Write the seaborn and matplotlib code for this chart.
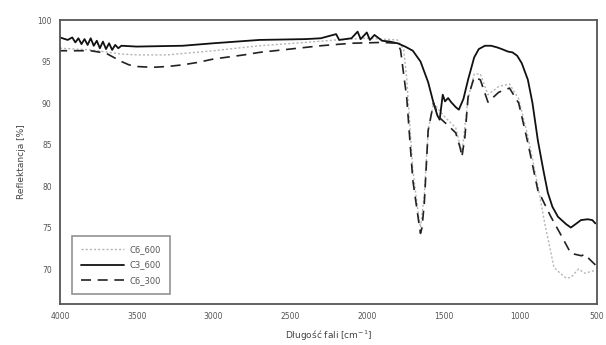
import numpy as np
import pandas as pd
import seaborn as sns
import matplotlib
matplotlib.use("Agg")
import matplotlib.pyplot as plt

sns.set_style("white")
plt.rcParams['font.family'] = ['DejaVu Sans']

# C3_600 (solid)
wn_c3_600 = [4000, 3950, 3920, 3900, 3880, 3860, 3840, 3820, 3800, 3780, 3760, 3740, 3720, 3700,
             3680, 3660, 3640, 3620, 3600, 3500, 3200, 3000, 2700, 2400, 2300, 2200, 2180, 2100,
             2060, 2040, 2000, 1980, 1950, 1900, 1850, 1800, 1750, 1700, 1650, 1600, 1565, 1540,
             1525, 1515, 1505, 1490, 1470, 1450, 1420, 1400, 1370, 1340, 1300, 1270, 1230, 1190,
             1150, 1120, 1080, 1050, 1020, 990, 950, 920, 885, 850, 820, 790, 754, 700, 670, 640,
             604, 560, 530, 510]
r_c3_600 = [97.9, 97.6, 97.9, 97.3, 97.8, 97.1, 97.7, 97.0, 97.8, 96.9, 97.5, 96.6, 97.4, 96.5,
            97.2, 96.4, 97.0, 96.6, 96.9, 96.8, 96.9, 97.2, 97.6, 97.7, 97.8, 98.3, 97.6, 97.8,
            98.6, 97.7, 98.5, 97.6, 98.2, 97.5, 97.4, 97.2, 96.8, 96.3, 95.0, 92.5, 90.0, 88.5,
            88.0, 89.5, 91.0, 90.2, 90.6, 90.1, 89.5, 89.2, 90.5, 92.8, 95.5, 96.5, 96.9, 96.9,
            96.7, 96.5, 96.2, 96.1, 95.7, 94.8, 92.8, 90.0, 85.5, 82.0, 79.2, 77.5, 76.3, 75.4, 75.0, 75.4,
            75.9, 76.0, 75.9, 75.5]

# C6_300 (dashed)
wn_c6_300 = [4000, 3800, 3700, 3650, 3600, 3550, 3500, 3400, 3300, 3200, 3100, 3000, 2800, 2700,
             2500, 2300, 2100, 1900, 1800, 1780, 1760, 1740, 1700, 1660, 1650, 1640, 1625, 1600,
             1565, 1530, 1470, 1420, 1390, 1380, 1360, 1340, 1300, 1260, 1210, 1140, 1070, 1010,
             950, 885, 800, 740, 670, 600, 580, 560, 510]
r_c6_300 = [96.3, 96.3, 96.0, 95.5, 95.0, 94.6, 94.4, 94.3, 94.4, 94.6, 94.9, 95.3, 95.8, 96.1,
            96.5, 96.9, 97.2, 97.3, 97.2, 96.4, 93.5, 90.7, 80.7, 75.5, 74.3, 75.0, 78.0, 86.7,
            90.0, 88.3, 87.3, 86.4, 84.5, 83.5, 86.0, 90.7, 93.1, 92.8, 90.1, 91.3, 91.8, 90.0,
            85.2, 79.5, 76.3, 74.3, 71.9, 71.6, 71.8, 71.4, 70.5]

# C6_600 (light dotted)
wn_c6_600 = [4000, 3800, 3600, 3500, 3300, 3000, 2700, 2400, 2200, 2000, 1800, 1760, 1740, 1700,
             1660, 1650, 1625, 1600, 1565, 1500, 1420, 1380, 1340, 1300, 1260, 1210, 1140, 1070,
             1010, 950, 885, 840, 800, 780, 740, 700, 670, 620, 580, 520]
r_c6_600 = [96.6, 96.4, 95.9, 95.8, 95.8, 96.3, 96.9, 97.3, 97.6, 97.8, 97.6, 96.5, 93.0, 82.0,
            76.0, 75.0, 79.0, 86.7, 90.0, 88.5, 87.0, 84.0, 90.5, 93.5, 93.5, 91.0, 92.0, 92.3,
            90.5, 86.0, 80.0, 75.5, 72.0, 70.2, 69.5, 68.9, 69.0, 70.0, 69.5, 69.8]

series = [
    ("C6_600", wn_c6_600, r_c6_600, dict(color="#b5b5b5", lw=1.0, ls=(0, (1.5, 1.5)))),
    ("C3_600", wn_c3_600, r_c3_600, dict(color="#111111", lw=1.3, ls="-")),
    ("C6_300", wn_c6_300, r_c6_300, dict(color="#222222", lw=1.2, ls=(0, (6, 4)))),
]

fig = plt.figure(figsize=(6.06, 3.45), dpi=100)
ax = fig.add_axes([0.099, 0.119, 0.886, 0.823])

for name, wn, r, st in series:
    df = pd.DataFrame({"wn": wn, "r": r})
    sns.lineplot(data=df, x="wn", y="r", ax=ax, estimator=None, sort=True,
                 label=name, color=st["color"], linewidth=st["lw"], linestyle=st["ls"])

ax.set_xlim(4000, 500)
ax.set_ylim(65.8, 100)
ax.set_xticks([4000, 3500, 3000, 2500, 2000, 1500, 1000, 500])
ax.set_yticks([70, 75, 80, 85, 90, 95, 100])
ax.tick_params(axis="both", direction="out", length=3, width=0.8, colors="#444444",
               labelsize=5.5, labelcolor="#555555", pad=3)
for s in ax.spines.values():
    s.set_color("#555555")
    s.set_linewidth(1.3)

ax.set_xlabel("Długość fali [cm$^{-1}$]", fontsize=6.5, color="#444444", labelpad=5)
ax.set_ylabel("Reflektancja [%]", fontsize=6.5, color="#444444", labelpad=8)

leg = ax.legend(loc="lower left", bbox_to_anchor=(0.022, 0.035), fontsize=6,
                frameon=True, fancybox=False, borderpad=1.1, handlelength=5.2,
                labelspacing=0.75, handletextpad=0.6, borderaxespad=0)
leg.get_frame().set_edgecolor("#777777")
leg.get_frame().set_linewidth(1.2)
for t in leg.get_texts():
    t.set_color("#555555")

fig.savefig("out.png", dpi=100)
